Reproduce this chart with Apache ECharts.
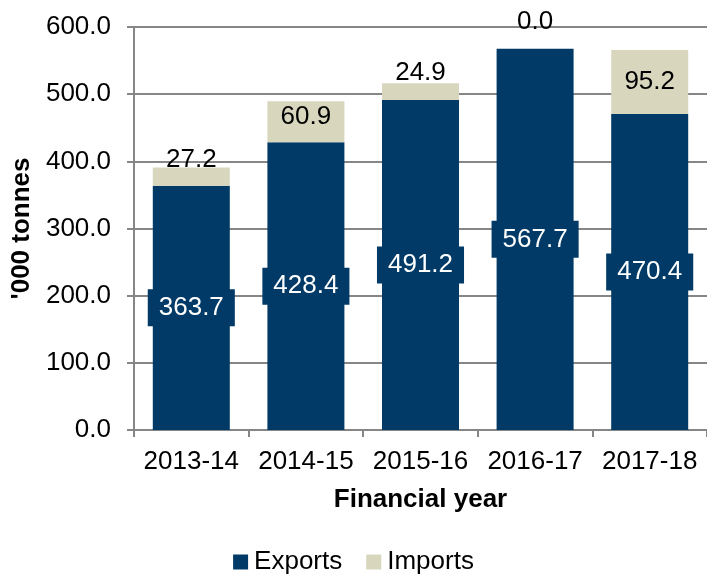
<!DOCTYPE html>
<html>
<head>
<meta charset="utf-8">
<script src="https://cdn.jsdelivr.net/npm/echarts@6/dist/echarts.min.js"></script>
<style>
  html, body { margin: 0; padding: 0; background: #fff; }
  #chart { width: 707px; height: 582px; }
</style>
</head>
<body>
<div id="chart"></div>
<script>
var years = ['2013-14', '2014-15', '2015-16', '2016-17', '2017-18'];
var exportsData = [363.7, 428.4, 491.2, 567.7, 470.4];
var importsData = [27.2, 60.9, 24.9, 0.0, 95.2];

var FONT = "'Liberation Sans', Arial, sans-serif";

// where Excel put each imports label
var importLabelPos = [
  { position: 'top', distance: -5 },
  { position: 'insideTop', distance: 2 },
  { position: 'top', distance: -2 },
  { position: 'top', distance: 14 },
  { position: 'inside', distance: 0 }
];

var chart = echarts.init(document.getElementById('chart'));

var option = {
  animation: false,
  textStyle: { fontFamily: FONT },
  grid: { left: 134, right: -2, top: 27, bottom: 152, containLabel: false },
  legend: {
    bottom: 2,
    left: 'center',
    itemWidth: 15,
    itemHeight: 15,
    itemGap: 24,
    icon: 'rect',
    textStyle: { fontSize: 26, color: '#000', fontFamily: FONT, padding: [0, 0, 0, 1] },
    data: ['Exports', 'Imports']
  },
  xAxis: {
    type: 'category',
    data: years,
    name: 'Financial year',
    nameLocation: 'middle',
    nameGap: 57,
    nameTextStyle: { fontSize: 26, fontWeight: 'bold', color: '#000', fontFamily: FONT },
    axisLine: { lineStyle: { color: '#868686', width: 2 } },
    axisTick: { show: true, length: 7, lineStyle: { color: '#868686', width: 2 } },
    axisLabel: { interval: 0, fontSize: 26, color: '#000', margin: 19, fontFamily: FONT }
  },
  yAxis: {
    type: 'value',
    min: 0,
    max: 600,
    interval: 100,
    name: "'000 tonnes",
    nameLocation: 'middle',
    nameGap: 98,
    nameRotate: 90,
    nameTextStyle: { fontSize: 26, fontWeight: 'bold', color: '#000', fontFamily: FONT },
    axisLine: { show: true, lineStyle: { color: '#868686', width: 2 } },
    axisTick: { show: true, length: 7, lineStyle: { color: '#868686', width: 2 } },
    axisLabel: {
      fontSize: 26, color: '#000', margin: 23, fontFamily: FONT,
      formatter: function (v) { return v.toFixed(1); }
    },
    splitLine: { show: true, lineStyle: { color: '#868686', width: 2 } }
  },
  series: [
    {
      name: 'Exports',
      type: 'bar',
      stack: 'total',
      barWidth: 77,
      itemStyle: { color: '#013A66' },
      label: {
        show: true,
        position: 'inside',
        color: '#fff',
        fontSize: 26,
        fontFamily: FONT,
        backgroundColor: '#013A66',
        padding: [6, 11, 5, 11],
        formatter: function (p) { return p.value.toFixed(1); }
      },
      data: exportsData
    },
    {
      name: 'Imports',
      type: 'bar',
      stack: 'total',
      barWidth: 77,
      itemStyle: { color: '#D8D7BE' },
      label: {
        show: true,
        color: '#000',
        fontSize: 26,
        fontFamily: FONT,
        formatter: function (p) { return p.value.toFixed(1); }
      },
      data: importsData.map(function (v, i) {
        return { value: v, label: importLabelPos[i] };
      })
    }
  ]
};

chart.setOption(option);
</script>
</body>
</html>
